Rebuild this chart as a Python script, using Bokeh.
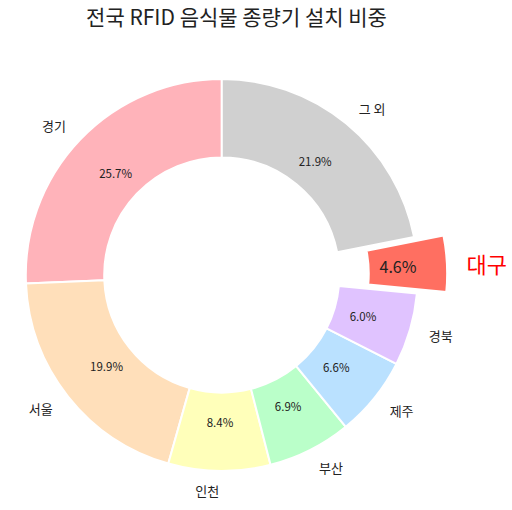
import math
from bokeh.plotting import figure
from bokeh.models import Range1d, Label
from bokeh.core.properties import value
from bokeh.embed import file_html
from bokeh.resources import INLINE

title_text = "전국 RFID 음식물 종량기 설치 비중"
regions = ["경기", "서울", "인천", "부산", "제주", "경북", "대구", "그 외"]
shares = [25.7, 19.9, 8.4, 6.9, 6.6, 6.0, 4.6, 21.9]
colors = ["#ffb3ba", "#ffdfba", "#ffffba", "#baffc9", "#bae1ff", "#e0c3ff", "#ff6f61", "#d0d0d0"]
explode = [0, 0, 0, 0, 0, 0, 0.15, 0]
highlight = "대구"

FONT = "Noto Sans CJK KR"
R = 196.0
INNER = 0.6
LABEL_DIST = 1.1
PCT_DIST = 0.75

W, H = 512, 510
CX, CY = 221.3, 274.5  # pie centre in page pixels

p = figure(width=W, height=H, output_backend="svg", toolbar_location=None,
           x_range=Range1d(-CX, W - CX), y_range=Range1d(-(H - CY), CY),
           min_border=0, match_aspect=False)
p.axis.visible = False
p.grid.visible = False
p.outline_line_color = None
p.background_fill_color = "white"
p.border_fill_color = "white"

total = sum(shares)
start = math.pi / 2
for name, s, c, ex in zip(regions, shares, colors, explode):
    span = s / total * 2 * math.pi
    end = start + span
    mid = (start + end) / 2
    cx = ex * R * math.cos(mid)
    cy = ex * R * math.sin(mid)
    p.annular_wedge(x=[cx], y=[cy], inner_radius=R * INNER, outer_radius=R,
                    start_angle=[start], end_angle=[end], direction="anticlock",
                    fill_color=c, line_color="white", line_width=2)
    is_hl = (name == highlight)
    lx = cx + LABEL_DIST * R * math.cos(mid)
    ly = cy + LABEL_DIST * R * math.sin(mid)
    p.text(x=[lx], y=[ly], text=[name],
           text_align="left" if math.cos(mid) > 0 else "right",
           text_baseline="middle", text_font=value(FONT),
           text_font_size="22px" if is_hl else "13px",
           text_color="#ff0000" if is_hl else "#222222")
    px = cx + PCT_DIST * R * math.cos(mid)
    py = cy + PCT_DIST * R * math.sin(mid)
    p.text(x=[px], y=[py], text=["%.1f%%" % s], text_align="center",
           text_baseline="middle", text_font=value(FONT),
           text_font_size="16px" if is_hl else "11.5px",
           text_color="#222222")
    start = end

p.add_layout(Label(x=236 - CX, y=CY - 15, text=title_text, text_align="center",
                   text_baseline="middle", text_font=FONT,
                   text_font_size="21px", text_color="#222222"))

open("out.html", "w").write(file_html(p, INLINE))
